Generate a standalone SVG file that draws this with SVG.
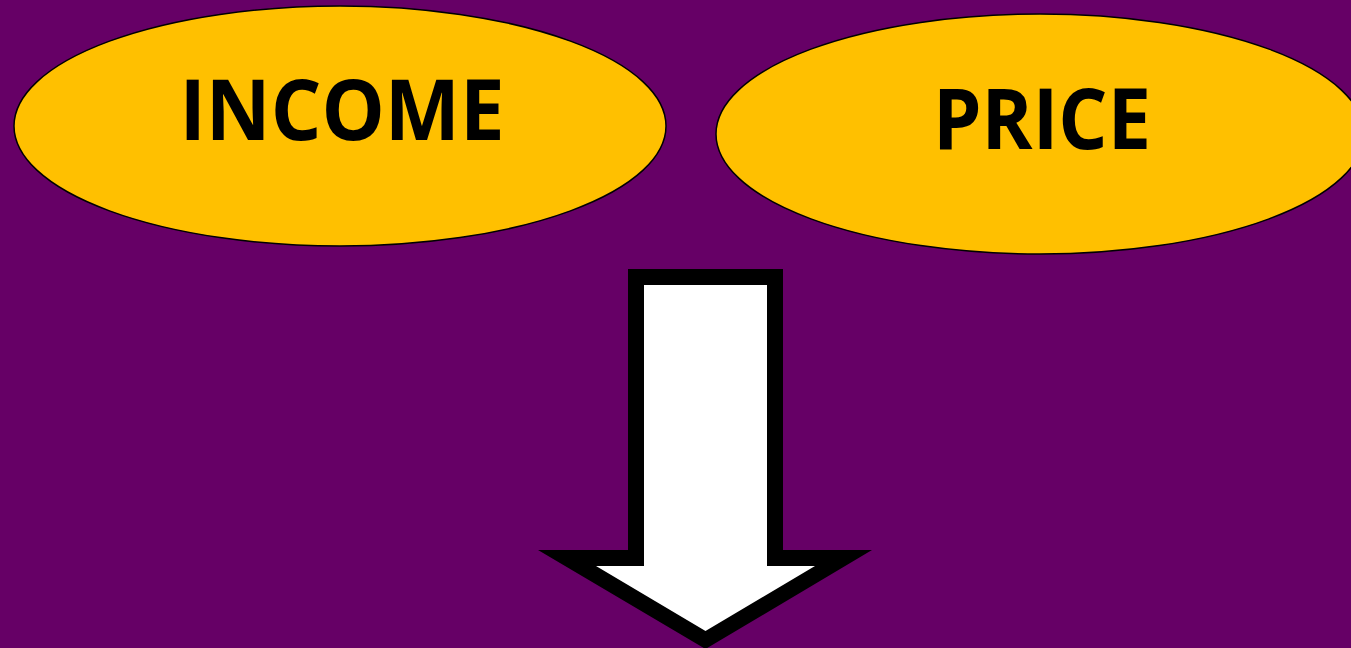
<svg xmlns="http://www.w3.org/2000/svg" width="1351" height="648" viewBox="0 0 1351 648">
<style>
.node ellipse{fill:#FFC000;stroke:#000;stroke-width:1.5}
.node text{font-family:"Open Sans","Liberation Sans",sans-serif;font-weight:bold;font-size:85px;fill:#000;text-anchor:middle}
</style>
<rect width="1351" height="648" fill="#660066"/>
<g id="income" class="node">
<ellipse cx="340" cy="126" rx="326" ry="120"/>
<text x="342" y="140" textLength="325" lengthAdjust="spacingAndGlyphs">INCOME</text>
</g>
<g id="price" class="node">
<ellipse cx="1040" cy="134" rx="324" ry="120"/>
<text x="1042" y="149" textLength="218" lengthAdjust="spacingAndGlyphs">PRICE</text>
</g>
<g id="connectors">
<polygon points="628,269 783,269 783,550 872,550 705.5,649 538,550 628,550" fill="#000"/>
<polygon points="644,285 767,285 767,566 815,566 705.5,631 596,566 644,566" fill="#fff"/>
</g>
</svg>
